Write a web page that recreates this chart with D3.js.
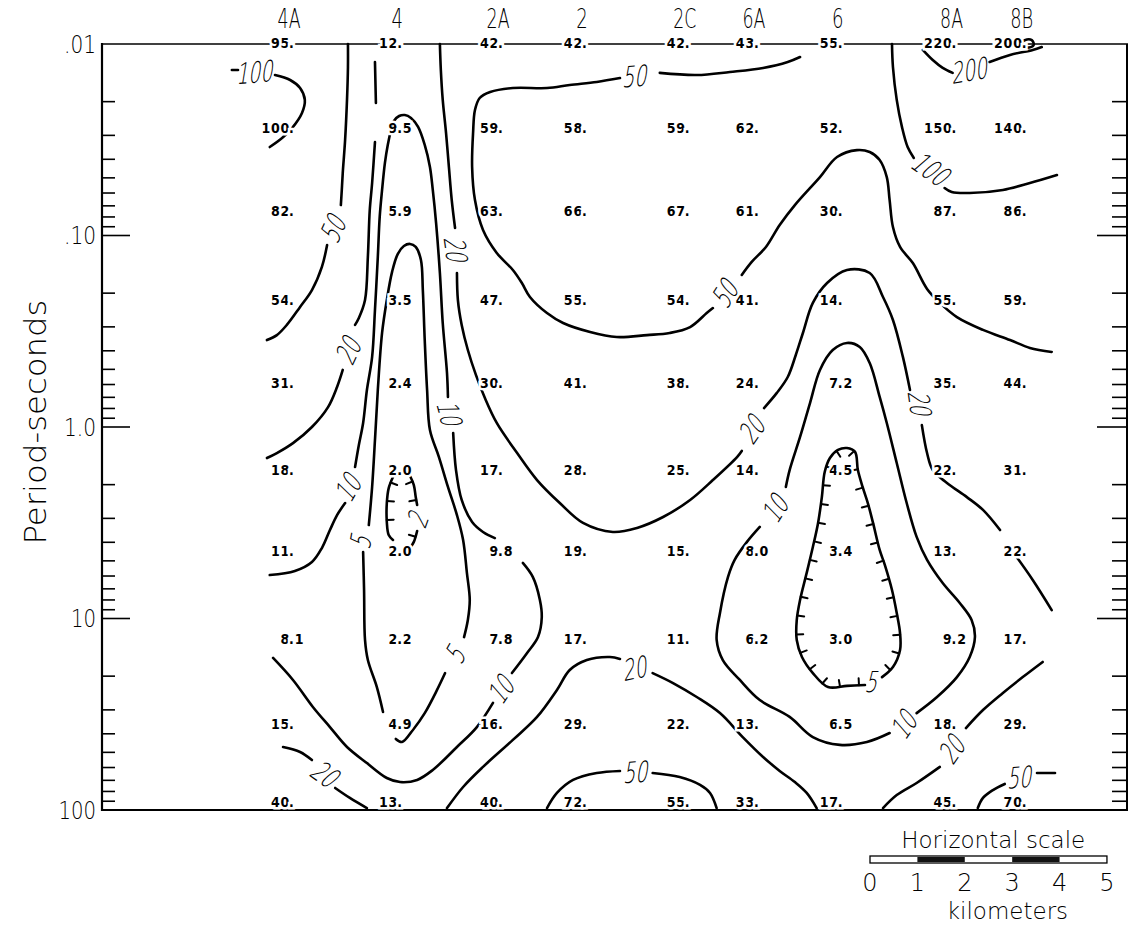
<!DOCTYPE html>
<html>
<head>
<meta charset="utf-8">
<script src="https://cdn.jsdelivr.net/npm/d3@7"></script>
<style>
  body { margin: 0; background: #fff; }
  svg { display: block; }
</style>
</head>
<body>
<svg id="chart" width="1129" height="926"></svg>
<script>
// ---- Stations along the profile (distance in km) ----
const stations = ["4A", "4", "2A", "2", "2C", "6A", "6", "8A", "8B"];
const stationKm = [3.99, 6.27, 8.40, 10.17, 12.34, 13.80, 15.57, 17.97, 19.45];

// ---- Sounding periods (seconds), one row of values per period ----
const periods = [0.01, 0.028, 0.076, 0.22, 0.6, 1.7, 4.5, 13, 36, 93];

// Apparent resistivity (ohm-m) per period row, per station column
const rho001 = [95, 12, 42, 42, 42, 43, 55, 220, 200];
const rho003 = [100, 9.5, 59, 58, 59, 62, 52, 150, 140];
const rho008 = [82, 5.9, 63, 66, 67, 61, 30, 87, 86];
const rho02  = [54, 3.5, 47, 55, 54, 41, 14, 55, 59];
const rho06  = [31, 2.4, 30, 41, 38, 24, 7.2, 35, 44];
const rho17  = [18, 2.0, 17, 28, 25, 14, 4.5, 22, 31];
const rho45  = [11, 2.0, 9.8, 19, 15, 8.0, 3.4, 13, 22];
const rho13  = [8.1, 2.2, 7.8, 17, 11, 6.2, 3.0, 9.2, 17];
const rho36  = [15, 4.9, 16, 29, 22, 13, 6.5, 18, 29];
const rho93  = [40, 13, 40, 72, 55, 33, 17, 45, 70];

// ---- Period axis ----
const periodTicks = [0.01, 0.1, 1, 10, 100];
const periodTickLabels = [".01", ".10", "1.0", "10", "100"];
const scaleBarKm = [0, 1, 2, 3, 4, 5];

// ---- Contour traces: [km, log10(period)] ----
const c100w1 = [[2.74,-1.864],[2.87,-1.864]];
const c100w2 = [[3.65,-1.838],[3.97,-1.812],[4.18,-1.770],[4.28,-1.708],[4.22,-1.640],[4.01,-1.561],[3.80,-1.509],[3.54,-1.462]];
const c50w1 = [[5.19,-2.0],[5.19,-1.880],[5.17,-1.708],[5.13,-1.499],[5.08,-1.326],[5.06,-1.238],[5.04,-1.159]];
const c50w2 = [[4.75,-0.950],[4.64,-0.836],[4.43,-0.715],[4.18,-0.627],[3.90,-0.533],[3.69,-0.480],[3.48,-0.454]];
const c20w1 = [[5.76,-1.906],[5.78,-1.692]];
const c20w2 = [[5.76,-1.488],[5.70,-1.274],[5.65,-1.133],[5.61,-0.888],[5.55,-0.663],[5.42,-0.569],[5.34,-0.533]];
const c20w3 = [[5.08,-0.298],[4.96,-0.209],[4.77,-0.104],[4.43,0.000],[4.03,0.084],[3.69,0.136],[3.48,0.162]];
const c10a1 = [[5.13,0.397],[4.96,0.460],[4.81,0.538],[4.64,0.632],[4.43,0.705],[4.07,0.752],[3.54,0.773]];
const c10a2 = [[5.34,0.209],[5.42,0.094],[5.51,-0.021],[5.59,-0.193],[5.70,-0.366],[5.76,-0.611],[5.82,-0.888],[5.86,-1.097],[5.91,-1.238],[5.97,-1.379],[6.03,-1.473],[6.10,-1.551],[6.16,-1.598],[6.27,-1.624],[6.39,-1.629],[6.52,-1.614],[6.67,-1.567],[6.81,-1.473],[6.92,-1.358],[6.98,-1.238],[7.05,-1.065],[7.13,-0.804],[7.19,-0.543],[7.28,-0.282],[7.30,-0.157]];
const c10a3 = [[7.41,0.031],[7.47,0.225],[7.59,0.381],[7.81,0.496],[8.04,0.548],[8.29,0.580]];
const c10a4 = [[8.88,0.710],[9.09,0.783],[9.24,0.903],[9.28,0.992],[9.20,1.097],[8.97,1.180],[8.65,1.285]];
const c10a5 = [[8.25,1.441],[7.91,1.567],[7.49,1.671],[6.98,1.791],[6.65,1.843],[6.29,1.854],[6.01,1.833],[5.59,1.755],[5.17,1.671],[4.81,1.567],[4.45,1.462],[4.03,1.321],[3.61,1.206]];
const c5a1 = [[5.93,1.488],[5.80,1.358],[5.61,1.217],[5.55,1.112],[5.53,0.851],[5.51,0.653]];
const c5a2 = [[5.63,0.512],[5.70,0.313],[5.76,0.068],[5.82,-0.193],[5.91,-0.491],[6.01,-0.663],[6.12,-0.809],[6.24,-0.903],[6.37,-0.945],[6.50,-0.956],[6.62,-0.940],[6.73,-0.872],[6.77,-0.715],[6.81,-0.454],[6.86,-0.193],[6.92,0.016],[7.11,0.157],[7.30,0.313],[7.49,0.460],[7.62,0.590],[7.70,0.762],[7.76,0.903],[7.72,1.008],[7.64,1.097]];
const c5a3 = [[7.24,1.285],[7.07,1.373],[6.81,1.494],[6.56,1.582],[6.33,1.645],[6.20,1.629]];
const c2a1 = [[6.14,0.261],[6.05,0.319],[6.01,0.397],[6.01,0.496],[6.05,0.564],[6.14,0.590]];
const c2a2 = [[6.50,0.256],[6.58,0.303],[6.62,0.366],[6.65,0.407]];
const c2a3 = [[6.65,0.543],[6.58,0.600],[6.50,0.632]];
const c20m1 = [[7.13,-2.0],[7.15,-1.864],[7.19,-1.708],[7.26,-1.535],[7.32,-1.358],[7.38,-1.185],[7.45,-1.039]];
const c20m2 = [[7.49,-0.804],[7.51,-0.663],[7.59,-0.533],[7.72,-0.402],[7.89,-0.272],[8.08,-0.151],[8.33,-0.021],[8.76,0.136],[9.18,0.277],[9.66,0.397],[10.15,0.501],[10.78,0.548],[11.29,0.527],[11.84,0.470],[12.41,0.381],[12.89,0.277],[13.40,0.157],[13.50,0.125]];
const c20m3 = [[13.97,-0.099],[14.24,-0.178],[14.47,-0.261],[14.64,-0.376],[14.79,-0.491],[15.00,-0.648],[15.30,-0.752],[15.72,-0.820],[16.20,-0.804],[16.48,-0.679],[16.69,-0.559],[16.90,-0.366],[17.05,-0.193]];
const c20m4 = [[17.30,-0.010],[17.41,0.136],[17.53,0.225],[17.83,0.292],[18.25,0.366],[18.59,0.433],[18.95,0.538]];
const c20m5 = [[19.30,0.679],[19.64,0.799],[20.04,0.956]];
const c50m1 = [[14.73,-1.932],[14.47,-1.906],[13.95,-1.875],[13.25,-1.854],[12.55,-1.838],[11.77,-1.849]];
const c50m2 = [[10.93,-1.822],[10.44,-1.802],[9.87,-1.786],[9.39,-1.770],[8.67,-1.770],[8.19,-1.749],[7.97,-1.718],[7.87,-1.655],[7.83,-1.535],[7.81,-1.358],[7.87,-1.185],[8.04,-1.029],[8.33,-0.909],[8.67,-0.820],[8.86,-0.752],[9.03,-0.679],[9.39,-0.595],[9.73,-0.543],[10.30,-0.496],[10.86,-0.470],[11.50,-0.480],[11.98,-0.491],[12.41,-0.522],[12.76,-0.595],[12.89,-0.621]];
const c50m3 = [[13.50,-0.794],[13.71,-0.862],[14.01,-0.940],[14.30,-1.055],[14.62,-1.159],[15.15,-1.305],[15.51,-1.410],[15.93,-1.446],[16.20,-1.436],[16.41,-1.394],[16.56,-1.305],[16.62,-1.185],[16.69,-1.044],[16.84,-0.940],[17.11,-0.856],[17.41,-0.721],[17.68,-0.648],[18.04,-0.574],[18.59,-0.507],[19.16,-0.454],[19.58,-0.413],[20.04,-0.392]];
const c100e1 = [[16.67,-2.0],[16.69,-1.880],[16.77,-1.708],[16.88,-1.567],[17.00,-1.462],[17.13,-1.405]];
const c100e2 = [[17.78,-1.248],[17.93,-1.227],[18.31,-1.222],[19.01,-1.238],[19.58,-1.274],[20.15,-1.316]];
const c200e1 = [[17.32,-1.969],[17.53,-1.916],[17.74,-1.875],[17.95,-1.849]];
const c200e2 = [[18.73,-1.906],[19.16,-1.943],[19.64,-1.969],[19.83,-1.984]];
const c200e3 = [[19.33,-1.99],[19.47,-2.02],[19.62,-2.02],[19.66,-1.995],[19.50,-1.98],[19.33,-1.99]];
const c20sw1 = [[3.82,1.671],[4.18,1.697],[4.43,1.739]];
const c20sw2 = [[4.92,1.885],[5.23,1.937],[5.59,1.990]];
const c20s1 = [[7.28,1.990],[7.62,1.880],[8.04,1.775],[8.67,1.634],[9.18,1.514],[9.60,1.373],[9.87,1.269],[10.23,1.217],[10.72,1.201],[10.93,1.211]];
const c20s2 = [[11.62,1.285],[12.05,1.337],[12.55,1.410],[13.04,1.494],[13.52,1.619],[13.95,1.723],[14.30,1.796],[14.62,1.854],[14.87,1.911],[15.08,1.990]];
const c50s1 = [[9.39,1.990],[9.60,1.911],[9.94,1.843],[10.44,1.807],[10.93,1.796]];
const c50s2 = [[11.62,1.807],[12.19,1.828],[12.62,1.869],[12.83,1.911],[12.97,1.990]];
const c10b1 = [[17.19,1.494],[17.62,1.410],[18.04,1.306],[18.31,1.201],[18.42,1.097],[18.35,1.008],[18.10,0.919],[17.74,0.815],[17.41,0.694],[17.19,0.574],[16.98,0.397],[16.77,0.188],[16.56,-0.021],[16.41,-0.157],[16.20,-0.334],[15.99,-0.418],[15.72,-0.439],[15.42,-0.402],[15.15,-0.298],[14.94,-0.125],[14.73,0.052],[14.51,0.225],[14.43,0.313]];
const c10b2 = [[13.88,0.522],[13.61,0.600],[13.35,0.694],[13.21,0.783],[13.04,0.971],[12.97,1.112],[13.10,1.217],[13.46,1.321],[13.88,1.426],[14.51,1.514],[15.00,1.619],[15.57,1.660],[16.14,1.645],[16.62,1.598]];
const c5b = [[16.10,1.347],[15.72,1.352],[15.32,1.358],[15.00,1.285],[14.77,1.201],[14.66,1.112],[14.66,1.008],[14.73,0.903],[14.87,0.762],[15.00,0.627],[15.11,0.501],[15.19,0.366],[15.25,0.235],[15.36,0.162],[15.53,0.120],[15.72,0.110],[15.89,0.130],[15.95,0.225],[16.05,0.313],[16.16,0.397],[16.27,0.501],[16.41,0.642],[16.52,0.721],[16.67,0.851],[16.77,0.971],[16.84,1.076],[16.84,1.164],[16.69,1.253],[16.46,1.306]];
const c20se1 = [[19.85,1.227],[19.43,1.306],[19.01,1.389],[18.59,1.478],[18.23,1.572]];
const c20se2 = [[17.68,1.775],[17.19,1.859],[16.77,1.922],[16.48,1.990]];
const c50se1 = [[18.48,1.990],[18.59,1.937],[18.80,1.896],[19.05,1.864]];
const c50se2 = [[19.73,1.807],[20.11,1.807]];

// Contour label anchors: [km, log10(period)]
const lab100w = [3.25,-1.854], lab50w = [4.89,-1.044], lab20w = [5.21,-0.407];
const lab10aL = [5.21,0.308], lab10aR = [7.34,-0.063], lab10aB = [8.44,1.363];
const lab5aL = [5.46,0.590], lab5aR = [7.47,1.180], lab2a = [6.67,0.475];
const lab20mA = [7.47,-0.919], lab20mB = [13.73,0.005], lab20mC = [17.26,-0.115];
const lab50mA = [11.27,-1.833], lab50mB = [13.16,-0.705];
const lab100e = [17.51,-1.342], lab200e = [18.33,-1.864];
const lab20sw = [4.73,1.817], lab20s = [11.27,1.258], lab50s = [11.29,1.801];
const lab10bA = [14.22,0.418], lab10bB = [16.94,1.546], lab5b = [16.27,1.327];
const lab20se = [17.95,1.676], lab50se = [19.39,1.828];

// ---------------------------------------------------------------
const rows = [rho001, rho003, rho008, rho02, rho06, rho17, rho45, rho13, rho36, rho93];

const svg = d3.select("#chart");
const x = d3.scaleLinear().domain([0, 21.65]).range([102, 1128]);
const y = d3.scaleLog().domain([0.01, 100]).range([44, 810]);
const yl = lp => y(Math.pow(10, lp));

const thin = "'DejaVu Sans', 'Liberation Sans', sans-serif";

// ---- Frame ----
const [x0, x1] = x.range();
const [yTop, yBot] = y.range();
const frame = svg.append("g").attr("stroke", "#000").attr("fill", "none");
frame.append("line").attr("x1", x0).attr("x2", x1).attr("y1", yTop).attr("y2", yTop).attr("stroke-width", 1.6);
frame.append("line").attr("x1", x0).attr("x2", x1).attr("y1", yBot).attr("y2", yBot).attr("stroke-width", 2);
frame.append("line").attr("x1", x0).attr("x2", x0).attr("y1", yTop - 1).attr("y2", yBot + 1).attr("stroke-width", 2.2);
frame.append("line").attr("x1", x1 - 1).attr("x2", x1 - 1).attr("y1", yTop).attr("y2", yBot).attr("stroke-width", 2);

// Log ticks on both sides, pointing inward
y.ticks().forEach(t => {
  const lg = Math.log10(t);
  if (Math.abs(lg + 2) < 1e-6 || Math.abs(lg - 2) < 1e-6) return;
  const major = Math.abs(lg - Math.round(lg)) < 1e-6;
  const yy = y(t);
  frame.append("line").attr("x1", x0).attr("x2", x0 + (major ? 28 : 13))
    .attr("y1", yy).attr("y2", yy).attr("stroke-width", 1.6);
  frame.append("line").attr("x1", x1 - 1).attr("x2", x1 - 1 - (major ? 30 : 15))
    .attr("y1", yy).attr("y2", yy).attr("stroke-width", 1.6);
});

// Period tick labels
svg.append("g").selectAll("text").data(periodTicks).join("text")
  .attr("x", 96).attr("y", d => y(d) + 8.5)
  .attr("text-anchor", "end")
  .attr("font-family", thin).attr("font-weight", 200).attr("font-size", 24)
  .attr("textLength", (d, i) => periodTickLabels[i].replace(".", "").length * 12.5 + (periodTickLabels[i].includes(".") ? 7 : 0))
  .attr("lengthAdjust", "spacingAndGlyphs")
  .text((d, i) => periodTickLabels[i]);

svg.append("text")
  .attr("transform", `translate(46,${(yTop + yBot) / 2 - 5}) rotate(-90)`)
  .attr("text-anchor", "middle")
  .attr("font-family", thin).attr("font-weight", 200).attr("font-size", 30)
  .attr("textLength", 245).attr("lengthAdjust", "spacingAndGlyphs")
  .text("Period-seconds");

// ---- Contours ----
const lineGen = d3.line().x(d => x(d[0])).y(d => yl(d[1])).curve(d3.curveCatmullRom.alpha(0.5));

const contourSet = [
  { level: 100, paths: [c100w1, c100w2], labels: [[lab100w, -5]] },
  { level: 50, paths: [c50w1, c50w2], labels: [[lab50w, -65]] },
  { level: 20, paths: [c20w1, c20w2, c20w3], labels: [[lab20w, -65]] },
  { level: 10, paths: [c10a1, c10a2, c10a3, c10a4, c10a5], labels: [[lab10aL, -60], [lab10aR, 75], [lab10aB, -55]] },
  { level: 5, paths: [c5a1, c5a2, c5a3], labels: [[lab5aL, -80], [lab5aR, -60]] },
  { level: 2, paths: [c2a1, c2a2, c2a3], labels: [[lab2a, -70]], low: [stationKm[1], 0.45] },
  { level: 20, paths: [c20m1, c20m2, c20m3, c20m4, c20m5], labels: [[lab20mA, 82], [lab20mB, -55], [lab20mC, 82]] },
  { level: 50, paths: [c50m1, c50m2, c50m3], labels: [[lab50mA, -4], [lab50mB, -58]] },
  { level: 100, paths: [c100e1, c100e2], labels: [[lab100e, 35]] },
  { level: 200, paths: [c200e1, c200e2, c200e3], labels: [[lab200e, -10]] },
  { level: 20, paths: [c20sw1, c20sw2], labels: [[lab20sw, 35]] },
  { level: 20, paths: [c20s1, c20s2], labels: [[lab20s, -12]] },
  { level: 50, paths: [c50s1, c50s2], labels: [[lab50s, -4]] },
  { level: 10, paths: [c10b1, c10b2], labels: [[lab10bA, -58], [lab10bB, -55]] },
  { level: 5, paths: [c5b], labels: [[lab5b, 0]], low: [stationKm[6], 0.95] },
  { level: 20, paths: [c20se1, c20se2], labels: [[lab20se, -55]] },
  { level: 50, paths: [c50se1, c50se2], labels: [[lab50se, -5]] }
];

const gC = svg.append("g").attr("fill", "none").attr("stroke", "#000")
  .attr("stroke-width", 2.6).attr("stroke-linecap", "round").attr("stroke-linejoin", "round");

contourSet.forEach(c => {
  c.paths.forEach(p => {
    const path = gC.append("path").attr("d", lineGen(p));
    if (c.low) {
      // hachure ticks pointing toward the enclosed low
      const node = path.node();
      const L = node.getTotalLength();
      const cx = x(c.low[0]), cy = yl(c.low[1]);
      for (let s = 6; s < L - 3; s += 19) {
        const a = node.getPointAtLength(s);
        const b = node.getPointAtLength(Math.min(L, s + 1));
        let tx = b.x - a.x, ty = b.y - a.y;
        const n = Math.hypot(tx, ty) || 1;
        tx /= n; ty /= n;
        let nx = -ty, ny = tx;
        if (nx * (cx - a.x) + ny * (cy - a.y) < 0) { nx = -nx; ny = -ny; }
        gC.append("line").attr("x1", a.x).attr("y1", a.y)
          .attr("x2", a.x + nx * 7).attr("y2", a.y + ny * 7).attr("stroke-width", 2);
      }
    }
  });
});

// Contour value labels (thin slanted figures)
const gL = svg.append("g");
contourSet.forEach(c => {
  c.labels.forEach(([pos, ang]) => {
    gL.append("text")
      .attr("transform", `translate(${x(pos[0])},${yl(pos[1])}) rotate(${ang}) skewX(-14) scale(0.66,1)`)
      .attr("text-anchor", "middle").attr("dy", "0.36em")
      .attr("font-family", thin).attr("font-weight", 200)
      .attr("font-size", 29)
      .text(c.level);
  });
});

// ---- Resistivity values, decimal point placed on the station ----
const gV = svg.append("g")
  .attr("font-family", "'DejaVu Sans Condensed', 'DejaVu Sans', sans-serif")
  .attr("font-weight", "bold").attr("font-size", 14).attr("letter-spacing", 0.8);
const splitValue = v => v >= 10 ? [String(v), "."] : (() => { const s = v.toFixed(1).split("."); return [s[0], "." + s[1]]; })();
rows.forEach((vals, i) => {
  const yy = y(periods[i]) + 3.5;
  vals.forEach((v, j) => {
    const sx = x(stationKm[j]);
    const [a, b] = splitValue(v);
    gV.append("text").attr("x", sx - 1).attr("y", yy).attr("text-anchor", "end")
      .attr("stroke", "#fff").attr("stroke-width", 5).attr("paint-order", "stroke").text(a);
    gV.append("text").attr("x", sx - 2).attr("y", yy).attr("text-anchor", "start")
      .attr("stroke", "#fff").attr("stroke-width", 5).attr("paint-order", "stroke").text(b);
  });
});

// ---- Station names ----
svg.append("g").selectAll("text").data(stations).join("text")
  .attr("x", (d, i) => x(stationKm[i]) - 2).attr("y", 28)
  .attr("text-anchor", "middle")
  .attr("font-family", thin).attr("font-weight", 300).attr("font-size", 26)
  .attr("textLength", d => d.length * 11.5).attr("lengthAdjust", "spacingAndGlyphs")
  .text(d => d);

// ---- Horizontal scale bar ----
const kmPx = k => x(k) - x(0);
const sb = svg.append("g").attr("transform", "translate(870,856)");
sb.append("text").attr("x", kmPx(2.6)).attr("y", -8).attr("text-anchor", "middle")
  .attr("font-family", thin).attr("font-weight", 200).attr("font-size", 23).text("Horizontal scale");
sb.append("rect").attr("x", 0).attr("y", 0).attr("width", kmPx(5)).attr("height", 7)
  .attr("fill", "#fff").attr("stroke", "#000").attr("stroke-width", 1.3);
[[1, 2], [3, 4]].forEach(([a, b]) => {
  sb.append("rect").attr("x", kmPx(a)).attr("y", 1).attr("width", kmPx(b) - kmPx(a)).attr("height", 5)
    .attr("fill", "#111");
});
sb.selectAll("text.km").data(scaleBarKm).join("text").attr("class", "km")
  .attr("x", d => kmPx(d)).attr("y", 35).attr("text-anchor", "middle")
  .attr("font-family", thin).attr("font-weight", 200).attr("font-size", 24)
  .text(d => d);
sb.append("text").attr("x", kmPx(2.9)).attr("y", 63).attr("text-anchor", "middle")
  .attr("font-family", thin).attr("font-weight", 200).attr("font-size", 23).text("kilometers");
</script>
</body>
</html>
